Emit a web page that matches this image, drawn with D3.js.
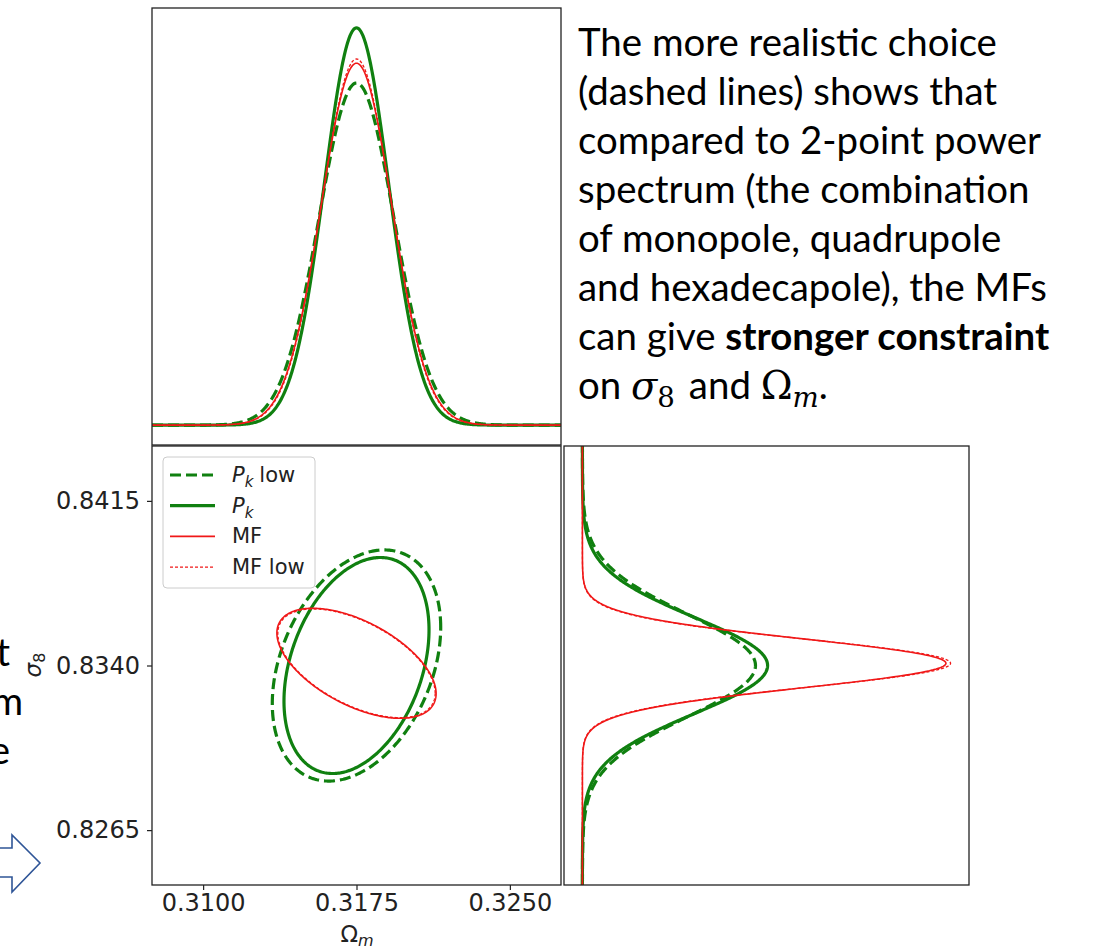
<!DOCTYPE html>
<html>
<head>
<meta charset="utf-8">
<script src="https://cdn.jsdelivr.net/npm/d3@7"></script>
<style>
body { margin: 0; background: #fff; }
svg { display: block; }
</style>
</head>
<body>
<svg id="fig" width="1094" height="946"></svg>
<script>
// forecast results (Fisher-style gaussians)
var seriesNames = ["Pk low", "Pk", "MF", "MF low"];
var centerOm = [0.3175, 0.3175, 0.3175, 0.3175];
var centerS8 = [0.8340, 0.8340, 0.8341, 0.8341];
var sigmaOm = [0.00183, 0.001576, 0.00173, 0.00171];
var sigmaS8 = [0.00234, 0.002187, 0.001114, 0.00110];
var corr = [0.33, 0.33, -0.55, -0.55];
var contourSigma = 2.25; // contour drawn at this many sigma

var xTicks = [0.3100, 0.3175, 0.3250];
var yTicks = [0.8265, 0.8340, 0.8415];
var xDomain = [0.3075, 0.3275];
var yDomain = [0.8240, 0.8440];

// styles
var seriesColor = ["#108010", "#108010", "#f01818", "#f01818"];
var seriesWidth = [3.2, 3.2, 1.6, 1.3];
var seriesDash = ["11,5", null, null, "3,2"];

var svg = d3.select("#fig");

// panel boxes
var mainBox = {x0: 152, x1: 561, y0: 446, y1: 885};
var topBox = {x0: 152, x1: 561, y0: 8, y1: 445};
var sideBox = {x0: 564, x1: 969, y0: 446, y1: 885};

var x = d3.scaleLinear().domain(xDomain).range([mainBox.x0, mainBox.x1]);
var y = d3.scaleLinear().domain(yDomain).range([mainBox.y1, mainBox.y0]);

function gauss(v, m, s) {
  return Math.exp(-0.5 * (v - m) * (v - m) / (s * s)) / (Math.sqrt(2 * Math.PI) * s);
}

var topMax = d3.max(sigmaOm.map(function (s, i) { return gauss(centerOm[i], centerOm[i], s); }));
var sideMax = d3.max(sigmaS8.map(function (s, i) { return gauss(centerS8[i], centerS8[i], s); }));
var yTop = d3.scaleLinear().domain([-0.05 * topMax, 1.05 * topMax]).range([topBox.y1, topBox.y0]);
var xSide = d3.scaleLinear().domain([-0.05 * sideMax, 1.05 * sideMax]).range([sideBox.x0, sideBox.x1]);

var defs = svg.append("defs");
function clip(id, b) {
  defs.append("clipPath").attr("id", id).append("rect")
    .attr("x", b.x0).attr("y", b.y0).attr("width", b.x1 - b.x0).attr("height", b.y1 - b.y0);
}
clip("cMain", mainBox);
clip("cTop", topBox);
clip("cSide", sideBox);

// ---- left slide fragments (rest of the words is hidden behind the figure) and arrow
var frag = svg.append("g")
  .attr("font-family", "Lato, 'Open Sans', sans-serif").attr("font-size", 40).attr("fill", "#000")
  .attr("text-anchor", "end");
frag.append("text").attr("x", 10).attr("y", 666).text("t");
frag.append("text").attr("x", 23).attr("y", 715).text("m");
frag.append("text").attr("x", 10).attr("y", 764).text("e");

svg.append("path")
  .attr("d", "M-5,848 L12,848 L12,835 L40,863 L12,892 L12,877 L-5,877 Z")
  .attr("fill", "#fff").attr("stroke", "#2f5597").attr("stroke-width", 1.6)
  .attr("stroke-linejoin", "miter");

// ---- top panel: marginal of Omega_m
var omGrid = d3.range(xDomain[0], xDomain[1] + 1e-6, (xDomain[1] - xDomain[0]) / 500);
var topG = svg.append("g").attr("clip-path", "url(#cTop)");
seriesNames.forEach(function (n, i) {
  var line = d3.line()
    .x(function (v) { return x(v); })
    .y(function (v) { return yTop(gauss(v, centerOm[i], sigmaOm[i])); });
  topG.append("path").datum(omGrid)
    .attr("d", line)
    .attr("fill", "none")
    .attr("stroke", seriesColor[i])
    .attr("stroke-width", seriesWidth[i])
    .attr("stroke-dasharray", seriesDash[i]);
});

// ---- side panel: marginal of sigma_8
var s8Grid = d3.range(yDomain[0], yDomain[1] + 1e-6, (yDomain[1] - yDomain[0]) / 500);
var sideG = svg.append("g").attr("clip-path", "url(#cSide)");
seriesNames.forEach(function (n, i) {
  var line = d3.line()
    .x(function (v) { return xSide(gauss(v, centerS8[i], sigmaS8[i])); })
    .y(function (v) { return y(v); });
  sideG.append("path").datum(s8Grid)
    .attr("d", line)
    .attr("fill", "none")
    .attr("stroke", seriesColor[i])
    .attr("stroke-width", seriesWidth[i])
    .attr("stroke-dasharray", seriesDash[i]);
});

// ---- main panel: 2D contours
var tGrid = d3.range(0, 2 * Math.PI + 0.001, Math.PI / 180);
var mainG = svg.append("g").attr("clip-path", "url(#cMain)");
seriesNames.forEach(function (n, i) {
  var k = contourSigma, r = corr[i];
  var line = d3.line()
    .x(function (t) { return x(centerOm[i] + k * sigmaOm[i] * Math.cos(t)); })
    .y(function (t) {
      return y(centerS8[i] + k * sigmaS8[i] * (r * Math.cos(t) + Math.sqrt(1 - r * r) * Math.sin(t)));
    });
  mainG.append("path").datum(tGrid)
    .attr("d", line)
    .attr("fill", "none")
    .attr("stroke", seriesColor[i])
    .attr("stroke-width", seriesWidth[i])
    .attr("stroke-dasharray", seriesDash[i]);
});

// ---- axes
var xAxis = svg.append("g").attr("transform", "translate(0," + mainBox.y1 + ")")
  .call(d3.axisBottom(x).tickValues(xTicks).tickFormat(d3.format(".4f")).tickSize(5).tickPadding(4));
var yAxis = svg.append("g").attr("transform", "translate(" + mainBox.x0 + ",0)")
  .call(d3.axisLeft(y).tickValues(yTicks).tickFormat(d3.format(".4f")).tickSize(5).tickPadding(7));
[xAxis, yAxis].forEach(function (a) {
  a.select(".domain").remove();
  a.selectAll(".tick line").attr("stroke", "#222").attr("stroke-width", 1.2);
  a.selectAll(".tick text").attr("font-family", "'DejaVu Sans'").attr("font-size", 24).attr("fill", "#222");
});

// frames
[topBox, mainBox, sideBox].forEach(function (b) {
  svg.append("rect")
    .attr("x", b.x0).attr("y", b.y0).attr("width", b.x1 - b.x0).attr("height", b.y1 - b.y0)
    .attr("fill", "none").attr("stroke", "#222").attr("stroke-width", 1.3);
});

// axis labels
var xl = svg.append("text").attr("x", 357).attr("y", 942).attr("text-anchor", "middle")
  .attr("font-family", "'DejaVu Sans'").attr("font-size", 23).attr("fill", "#222");
xl.append("tspan").text("Ω");
xl.append("tspan").attr("font-style", "italic").attr("font-size", 16).attr("dy", 4).text("m");

var yl = svg.append("text").attr("transform", "translate(41,665) rotate(-90)").attr("text-anchor", "middle")
  .attr("font-family", "'DejaVu Sans'").attr("font-size", 23).attr("fill", "#222");
yl.append("tspan").attr("font-style", "italic").text("σ");
yl.append("tspan").attr("font-size", 16).attr("dy", 4).text("8");

// ---- legend
var leg = svg.append("g");
leg.append("rect").attr("x", 163).attr("y", 457).attr("width", 152).attr("height", 131).attr("rx", 4)
  .attr("fill", "#fff").attr("fill-opacity", 0.8).attr("stroke", "#cccccc").attr("stroke-width", 1);
seriesNames.forEach(function (n, i) {
  var ly = 475 + i * 30.7;
  leg.append("line").attr("x1", 170).attr("x2", 215).attr("y1", ly).attr("y2", ly)
    .attr("stroke", seriesColor[i]).attr("stroke-width", seriesWidth[i])
    .attr("stroke-dasharray", seriesDash[i]);
  var t = leg.append("text").attr("x", 232).attr("y", ly + 7)
    .attr("font-family", "'DejaVu Sans'").attr("font-size", 21).attr("fill", "#222");
  if (n.indexOf("Pk") === 0) {
    t.append("tspan").attr("font-style", "italic").text("P");
    t.append("tspan").attr("font-style", "italic").attr("font-size", 15).attr("dy", 5).text("k");
    if (n === "Pk low") t.append("tspan").attr("dy", -5).attr("dx", 6).text("low");
  } else {
    t.text(n);
  }
});

// ---- slide text on the right
var noteLines = [
  [{t: "The more realistic choice"}],
  [{t: "(dashed lines) shows that"}],
  [{t: "compared to 2-point power"}],
  [{t: "spectrum (the combination"}],
  [{t: "of monopole, quadrupole"}],
  [{t: "and hexadecapole), the MFs"}],
  [{t: "can give "}, {t: "stronger constraint", b: true}],
  [{t: "on "}, {t: "σ", m: "it"}, {t: "8", m: "sub"}, {t: "and ", dx: 14}, {t: "Ω", m: "up"}, {t: "m", m: "subit"}, {t: "."}]
];
var note = svg.append("g").attr("font-family", "Lato, 'Open Sans', sans-serif").attr("fill", "#000");
var noteTexts = [];
noteLines.forEach(function (segs, i) {
  var t = note.append("text").attr("x", 578).attr("y", 56 + i * 49).attr("font-size", 40)
    .style("white-space", "pre");
  var sub = false;
  segs.forEach(function (s) {
    var sp = t.append("tspan").text(s.t);
    if (s.b) sp.attr("font-weight", "bold");
    if (s.dx) sp.attr("dx", s.dx);
    if (s.m) {
      sp.attr("font-family", "'DejaVu Serif'");
      if (s.m === "it" || s.m === "subit") sp.attr("font-style", "italic");
      if (s.m === "sub" || s.m === "subit") {
        sp.attr("font-size", "0.72em").attr("dy", "0.3em");
        sub = true;
        return;
      }
    }
    if (sub) { sp.attr("dy", "-0.216em"); sub = false; }
  });
  noteTexts.push(t);
});
// fit the font to the width of the first line
var w0 = noteTexts[0].node().getComputedTextLength();
var fs = 40 * 419 / w0;
noteTexts.forEach(function (t) { t.attr("font-size", fs); });
frag.attr("font-size", fs);
</script>
</body>
</html>
